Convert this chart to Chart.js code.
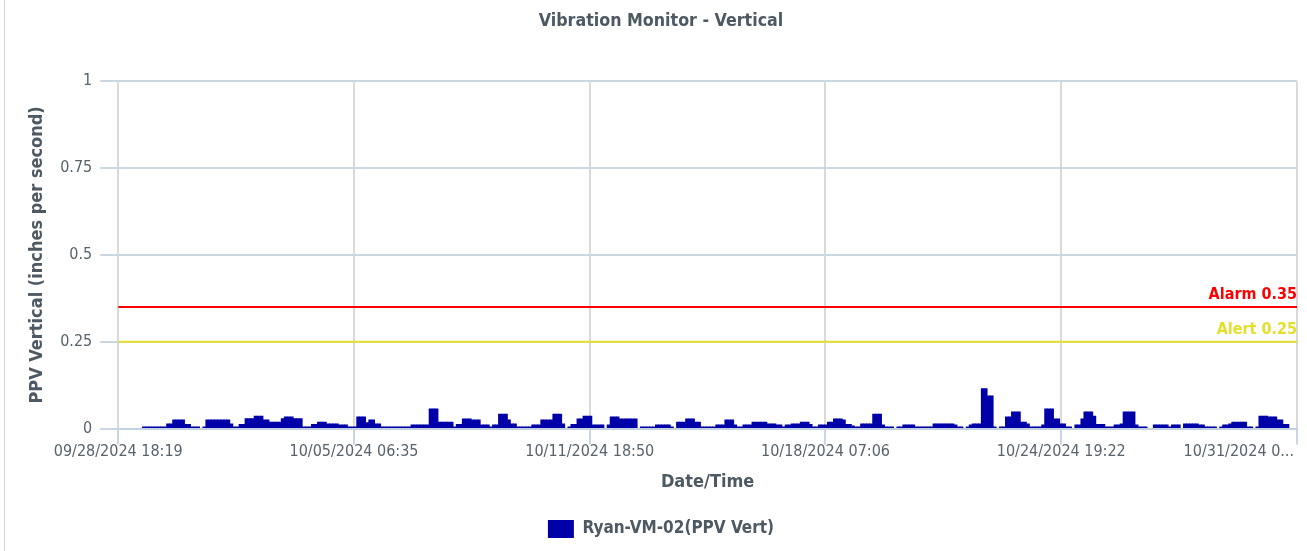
<!DOCTYPE html>
<html lang="en">
<head>
  <meta charset="UTF-8">
  <title>Vibration Monitor - Vertical</title>
  <script src="https://cdn.jsdelivr.net/npm/chart.js"></script>
  <style>
    html, body { margin: 0; padding: 0; background: #fff; }
    #wrap { position: relative; width: 1307px; height: 551px; }
    #edge { position: absolute; left: 4px; top: 0; width: 1px; height: 551px; background: #d6d6d6; }
  </style>
</head>
<body>
  <div id="wrap">
    <canvas id="vibChart" width="1307" height="551"></canvas>
    <div id="edge"></div>
  </div>

  <script>
    // x axis is in hours since 09/28/2024 18:19, one bar per 2 hour slot
    const slotHours = 2;

    const xTickHours = [0, 156.27, 312.52, 468.78, 625.05, 781.32];
    const xTickLabels = ['09/28/2024 18:19', '10/05/2024 06:35', '10/11/2024 18:50',
                         '10/18/2024 07:06', '10/24/2024 19:22', '10/31/2024 0...'];

    const yTicks = [0, 0.25, 0.5, 0.75, 1];
    const yTickLabels = ['0', '0.25', '0.5', '0.75', '1'];

    const thresholdValues = [0.35, 0.25];
    const thresholdLabels = ['Alarm 0.35', 'Alert 0.25'];
    const thresholdColors = ['#ff0000', '#e4df2a'];

    const n = null;
    // PPV vertical, inches per second, 2h slots
    const ppvVert = [
      n, n, n, n, n, n, n, n, .005, .005,
      .005, .005, .005, .005, .005, .005, .014, .014, .025, .025,
      .025, .025, .012, .012, .005, .005, .005, n, .005, .025,
      .025, .025, .025, .025, .025, .025, .025, .014, .005, .005,
      .012, .012, .029, .029, .029, .036, .036, .036, .025, .025,
      .019, .019, .019, .019, .029, .034, .034, .034, .029, .029,
      .029, .005, .005, .005, .012, .012, .019, .019, .019, .014,
      .014, .014, .014, .011, .011, .011, .005, .005, .005, .034,
      .034, .034, .017, .025, .025, .014, .014, .005, .005, .005,
      .005, .005, .005, .005, .005, .005, .005, .011, .011, .011,
      .011, .011, .011, .057, .057, .057, .019, .019, .019, .019,
      .019, .005, .012, .012, .028, .028, .028, .025, .025, .025,
      .011, .011, .011, .005, .011, .011, .042, .042, .042, .025,
      .014, .014, .005, .005, .005, .005, .005, .011, .011, .011,
      .025, .025, .025, .025, .042, .042, .042, .014, n, .005,
      .012, .012, .028, .028, .036, .036, .036, .011, .011, .011,
      .011, n, .011, .034, .034, .034, .028, .028, .028, .028,
      .028, .028, n, .005, .005, .005, .005, .005, .011, .011,
      .011, .011, .011, .005, n, .019, .019, .019, .028, .028,
      .028, .019, .019, .005, .005, .005, .005, .005, .011, .011,
      .011, .025, .025, .025, .011, .005, .005, .011, .011, .011,
      .019, .019, .019, .019, .019, .014, .014, .014, .011, .011,
      .005, .011, .011, .014, .014, .014, .019, .019, .019, .012,
      .005, .005, .011, .011, .011, .019, .019, .028, .028, .028,
      .025, .012, .012, .008, .005, .005, .014, .014, .014, .014,
      .042, .042, .042, .011, .005, .005, .005, n, .005, .005,
      .011, .011, .011, .011, .005, .005, .005, .005, .005, .005,
      .014, .014, .014, .014, .014, .014, .014, .011, .005, .005,
      n, .005, .011, .014, .014, .014, .115, .115, .094, .094,
      .005, n, .005, .005, .034, .034, .048, .048, .048, .019,
      .019, .014, .005, .005, .005, .005, .011, .057, .057, .057,
      .028, .028, .014, .014, .005, .005, n, .011, .011, .028,
      .048, .048, .048, .036, .012, .012, .012, .005, .005, .005,
      .011, .011, .014, .048, .048, .048, .048, .011, .005, .005,
      .005, n, n, .011, .011, .011, .011, .011, .005, .011,
      .011, .011, n, .014, .014, .014, .014, .014, .011, .011,
      .005, .005, .005, .005, n, .005, .011, .011, .014, .019,
      .019, .019, .019, .019, .005, .005, n, .005, .036, .036,
      .036, .034, .034, .034, .025, .025, .012, .012, n, n
    ];

    const FONT = '"DejaVu Sans Condensed", "DejaVu Sans", sans-serif';
    const TITLE_GRAY = '#4d5963';
    const TICK_GRAY = '#58636d';
    const BAR_BLUE = '#0000a8';

    // red / yellow limit lines with their labels
    const thresholdLines = {
      id: 'thresholdLines',
      afterDatasetsDraw(chart) {
        const { ctx, chartArea, scales } = chart;
        ctx.save();
        thresholdValues.forEach((v, i) => {
          const y = scales.y.getPixelForValue(v);
          ctx.strokeStyle = thresholdColors[i];
          ctx.lineWidth = 2;
          ctx.beginPath();
          ctx.moveTo(chartArea.left, y);
          ctx.lineTo(chartArea.right, y);
          ctx.stroke();
          ctx.fillStyle = thresholdColors[i];
          ctx.font = 'bold 16px ' + FONT;
          ctx.textAlign = 'right';
          ctx.textBaseline = 'alphabetic';
          ctx.fillText(thresholdLabels[i], chartArea.right, y - 8);
        });
        ctx.restore();
      }
    };

    // last x label is cut in the original, so it sits right aligned on its tick
    const lastTickLabel = {
      id: 'lastTickLabel',
      afterDraw(chart) {
        const xs = chart.scales.x;
        const items = xs.getLabelItems ? xs.getLabelItems() : [];
        const ref = items[0];
        const idx = xTickLabels.length - 1;
        const ctx = chart.ctx;
        ctx.save();
        ctx.font = '16px ' + FONT;
        ctx.fillStyle = TICK_GRAY;
        ctx.textAlign = 'right';
        ctx.textBaseline = ref ? ref.options.textBaseline : 'top';
        const y = ref ? ref.options.translation[1] + (ref.textOffset || 0) : xs.top + 14;
        ctx.fillText(xTickLabels[idx], xs.getPixelForValue(xTickHours[idx]) - 3, y);
        ctx.restore();
      }
    };

    const ctx = document.getElementById('vibChart').getContext('2d');
    const chart = new Chart(ctx, {
      type: 'bar',
      data: {
        datasets: [{
          label: 'Ryan-VM-02(PPV Vert)',
          data: ppvVert.map((v, i) => ({ x: i * slotHours + slotHours / 2, y: v })),
          backgroundColor: BAR_BLUE,
          borderWidth: 0,
          barPercentage: 1,
          categoryPercentage: 1
        }]
      },
      options: {
        responsive: false,
        animation: false,
        layout: { padding: { left: 25, right: 10, top: 0, bottom: 3 } },
        scales: {
          x: {
            type: 'linear',
            min: xTickHours[0],
            max: xTickHours[xTickHours.length - 1],
            offset: false,
            afterBuildTicks: s => { s.ticks = xTickHours.map(v => ({ value: v })); },
            ticks: {
              autoSkip: false,
              maxRotation: 0,
              padding: -2,
              color: TICK_GRAY,
              font: { family: FONT, size: 16 },
              callback: (v, i) => (i < xTickLabels.length - 1 ? xTickLabels[i] : '')
            },
            grid: { offset: false, color: '#d9d9d9', lineWidth: 2, tickLength: 16, tickColor: '#c9d6e3' },
            border: { color: '#c3d1e0', width: 2 },
            title: {
              display: true,
              text: 'Date/Time',
              color: TITLE_GRAY,
              font: { family: FONT, size: 18, weight: 'bold' },
              padding: { top: 12, bottom: 16.6 }
            }
          },
          y: {
            min: 0,
            max: 1,
            afterBuildTicks: s => { s.ticks = yTicks.map(v => ({ value: v })); },
            ticks: {
              padding: 8,
              color: TICK_GRAY,
              font: { family: FONT, size: 16 },
              callback: (v, i) => yTickLabels[i]
            },
            grid: { color: '#cad6e2', lineWidth: 2, tickLength: 18, tickColor: '#cad6e2' },
            border: { display: false },
            title: {
              display: true,
              text: 'PPV Vertical (inches per second)',
              color: TITLE_GRAY,
              font: { family: FONT, size: 18, weight: 'bold' },
              padding: { top: 1.7, bottom: 3.9 }
            }
          }
        },
        plugins: {
          title: {
            display: true,
            text: 'Vibration Monitor - Vertical',
            color: TITLE_GRAY,
            font: { family: FONT, size: 17.7, weight: 'bold' },
            padding: { top: 11, bottom: 49 }
          },
          legend: {
            position: 'bottom',
            labels: {
              boxWidth: 26,
              boxHeight: 18,
              padding: 10,
              color: TITLE_GRAY,
              font: { family: FONT, size: 17, weight: 'bold' }
            }
          },
          tooltip: { enabled: false }
        }
      },
      plugins: [thresholdLines, lastTickLabel]
    });
  </script>
</body>
</html>
